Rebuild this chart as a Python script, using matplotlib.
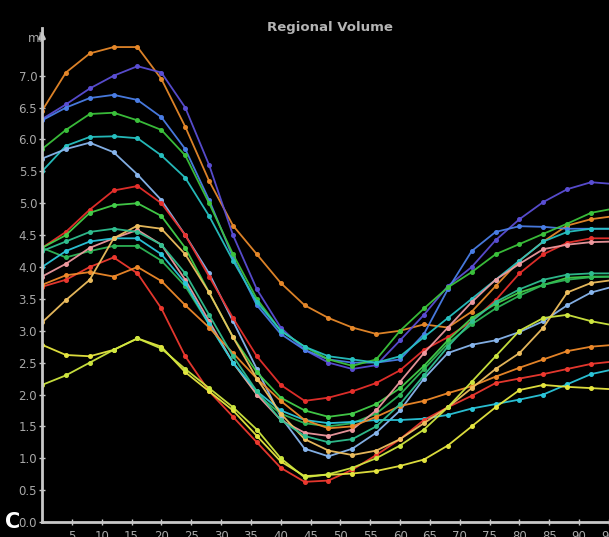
import matplotlib
matplotlib.use("Agg")
import matplotlib.pyplot as plt

# percent of cardiac cycle, one sample every 4 %
t = [0, 4, 8, 12, 16, 20, 24, 28, 32, 36, 40, 44, 48,
     52, 56, 60, 64, 68, 72, 76, 80, 84, 88, 92, 96]

# regional volumes (ml) per segment
seg_orange_a = [6.45, 7.05, 7.35, 7.45, 7.45, 6.95, 6.2, 5.35, 4.65, 4.2, 3.75, 3.4, 3.2,
                3.05, 2.95, 3.0, 3.1, 3.05, 3.3, 3.7, 4.1, 4.4, 4.65, 4.75, 4.8]
seg_purple = [6.32, 6.55, 6.8, 7.0, 7.15, 7.05, 6.5, 5.6, 4.5, 3.65, 3.05, 2.7, 2.5,
              2.4, 2.46, 2.85, 3.25, 3.7, 4.0, 4.42, 4.75, 5.02, 5.22, 5.33, 5.3]
seg_blue = [6.3, 6.5, 6.65, 6.7, 6.62, 6.35, 5.85, 5.05, 4.15, 3.4, 2.95, 2.7, 2.55,
            2.5, 2.5, 2.55, 2.95, 3.65, 4.25, 4.55, 4.64, 4.63, 4.6, 4.6, 4.6]
seg_green_a = [5.85, 6.15, 6.4, 6.42, 6.3, 6.15, 5.75, 5.0, 4.2, 3.5, 3.0, 2.75, 2.55,
               2.45, 2.55, 3.0, 3.35, 3.68, 3.92, 4.2, 4.36, 4.52, 4.68, 4.85, 4.92]
seg_cyan_a = [5.5, 5.9, 6.04, 6.05, 6.02, 5.75, 5.4, 4.8, 4.1, 3.45, 3.0, 2.75, 2.6,
              2.55, 2.5, 2.6, 2.9, 3.2, 3.5, 3.8, 4.1, 4.4, 4.55, 4.6, 4.6]
seg_lightblue = [5.7, 5.85, 5.95, 5.8, 5.45, 5.05, 4.5, 3.9, 3.15, 2.4, 1.65, 1.15, 1.03,
                 1.15, 1.4, 1.75, 2.25, 2.65, 2.78, 2.85, 2.98, 3.15, 3.4, 3.6, 3.7]
seg_red_a = [4.3, 4.55, 4.9, 5.2, 5.27, 5.0, 4.5, 3.85, 3.2, 2.6, 2.15, 1.9, 1.95,
             2.05, 2.18, 2.38, 2.7, 2.9, 3.15, 3.48, 3.9, 4.2, 4.38, 4.45, 4.45]
seg_green_b = [4.3, 4.5, 4.85, 4.97, 5.0, 4.8, 4.3, 3.6, 2.9, 2.35, 1.95, 1.75, 1.65,
               1.7, 1.85, 2.1, 2.45, 2.85, 3.2, 3.42, 3.6, 3.72, 3.83, 3.85, 3.85]
seg_green_c = [4.3, 4.15, 4.25, 4.33, 4.33, 4.1, 3.7, 3.1, 2.5, 2.0, 1.7, 1.55, 1.5,
               1.55, 1.7, 2.0, 2.4, 2.8, 3.1, 3.35, 3.55, 3.72, 3.8, 3.84, 3.85]
seg_pink = [3.85, 4.05, 4.3, 4.45, 4.58, 4.35, 3.8, 3.15, 2.5, 2.0, 1.6, 1.4, 1.35,
            1.45, 1.75, 2.2, 2.65, 3.05, 3.45, 3.8, 4.05, 4.28, 4.35, 4.39, 4.4]
seg_cyan_b = [4.0, 4.25, 4.4, 4.45, 4.45, 4.2, 3.75, 3.1, 2.5, 2.05, 1.75, 1.6, 1.55,
              1.57, 1.6, 1.6, 1.62, 1.68, 1.78, 1.85, 1.92, 2.0, 2.16, 2.32, 2.4]
seg_red_b = [3.69, 3.8, 4.0, 4.15, 3.9, 3.35, 2.6, 2.05, 1.65, 1.25, 0.85, 0.63, 0.65,
             0.82, 1.05, 1.3, 1.6, 1.8, 1.98, 2.18, 2.25, 2.32, 2.4, 2.48, 2.52]
seg_orange_b = [3.72, 3.87, 3.92, 3.85, 4.0, 3.78, 3.4, 3.05, 2.65, 2.25, 1.9, 1.6, 1.47,
                1.5, 1.65, 1.82, 1.9, 2.02, 2.13, 2.28, 2.42, 2.55, 2.68, 2.75, 2.78]
seg_peach = [3.13, 3.48, 3.8, 4.45, 4.65, 4.6, 4.2, 3.6, 2.9, 2.25, 1.7, 1.3, 1.12,
             1.05, 1.12, 1.3, 1.55, 1.8, 2.1, 2.4, 2.65, 3.05, 3.6, 3.75, 3.8]
seg_yellow_a = [2.78, 2.62, 2.6, 2.7, 2.88, 2.75, 2.35, 2.05, 1.75, 1.35, 0.95, 0.72, 0.74,
                0.76, 0.8, 0.88, 0.98, 1.2, 1.5, 1.8, 2.07, 2.15, 2.12, 2.1, 2.08]
seg_yellow_b = [2.15, 2.3, 2.5, 2.7, 2.88, 2.72, 2.4, 2.1, 1.8, 1.45, 1.0, 0.7, 0.75,
                0.85, 1.0, 1.2, 1.45, 1.8, 2.2, 2.6, 3.0, 3.2, 3.25, 3.15, 3.08]
seg_teal = [4.25, 4.4, 4.55, 4.6, 4.55, 4.35, 3.9, 3.25, 2.6, 2.05, 1.6, 1.35, 1.25,
            1.3, 1.5, 1.85, 2.3, 2.75, 3.15, 3.45, 3.65, 3.8, 3.88, 3.9, 3.9]

segments = [seg_orange_a, seg_purple, seg_blue, seg_green_a, seg_cyan_a, seg_lightblue,
            seg_red_a, seg_green_b, seg_green_c, seg_pink, seg_cyan_b, seg_red_b,
            seg_orange_b, seg_peach, seg_yellow_a, seg_yellow_b, seg_teal]
colors = ['#e8892a', '#5b4fd6', '#4b7fe8', '#3cc43c', '#27c2c2', '#8ab8f0',
          '#e8302c', '#44d04a', '#2fb858', '#f09aa0', '#2cc8dc', '#f03a30',
          '#f08a2a', '#f0c060', '#e8e840', '#d0e840', '#30c090']

x_ticks = list(range(5, 100, 5))
y_ticks = [0.0, 0.5, 1.0, 1.5, 2.0, 2.5, 3.0, 3.5, 4.0, 4.5, 5.0, 5.5, 6.0, 6.5, 7.0]

W, H = 609, 537
fig = plt.figure(figsize=(W / 100, H / 100), dpi=100, facecolor='black')
ax = fig.add_axes([42 / W, 15 / H, (W - 42) / W, (522 - 28) / H])
ax.set_facecolor('black')

for vals, col in zip(segments, colors):
    ax.plot(t, vals, color=col, lw=1.3, marker='o', ms=2.6,
            mfc=col, mec=col, alpha=0.95)

ax.set_xlim(0, (W - 42) / 6.04)
ax.set_ylim(0, (522 - 28) / 63.75)

axis_col = '#c8c8c8'
label_col = '#a8a8a8'
for side in ['top', 'right']:
    ax.spines[side].set_visible(False)
for side in ['left', 'bottom']:
    ax.spines[side].set_color(axis_col)
    ax.spines[side].set_linewidth(2)

ax.set_xticks(x_ticks)
ax.set_xticklabels([str(v) for v in x_ticks])
ax.set_yticks(y_ticks)
ax.set_yticklabels(['%.1f' % v for v in y_ticks])
ax.tick_params(axis='both', colors=axis_col, labelcolor=label_col,
               direction='inout', length=5, width=1, labelsize=8.5, pad=1)
ax.tick_params(axis='x', pad=3)

# arrow head on top of the y axis
ax.annotate('', xy=(0, 1.0), xytext=(0, 0.97), xycoords='axes fraction',
            arrowprops=dict(arrowstyle='-|>', color=axis_col, lw=2,
                            mutation_scale=9), annotation_clip=False)

fig.text(35 / W, 1 - 38 / H, 'ml', color=label_col, fontsize=8.5,
         ha='center', va='center')
fig.text(330 / W, 1 - 28 / H, 'Regional Volume', color='#b4b4b4',
         fontsize=9.5, fontweight='bold', ha='center', va='center')
fig.text(13 / W, 1 - 522 / H, 'C', color='white', fontsize=15,
         fontweight='bold', ha='center', va='center')

fig.savefig('out.png', dpi=100, facecolor='black')
